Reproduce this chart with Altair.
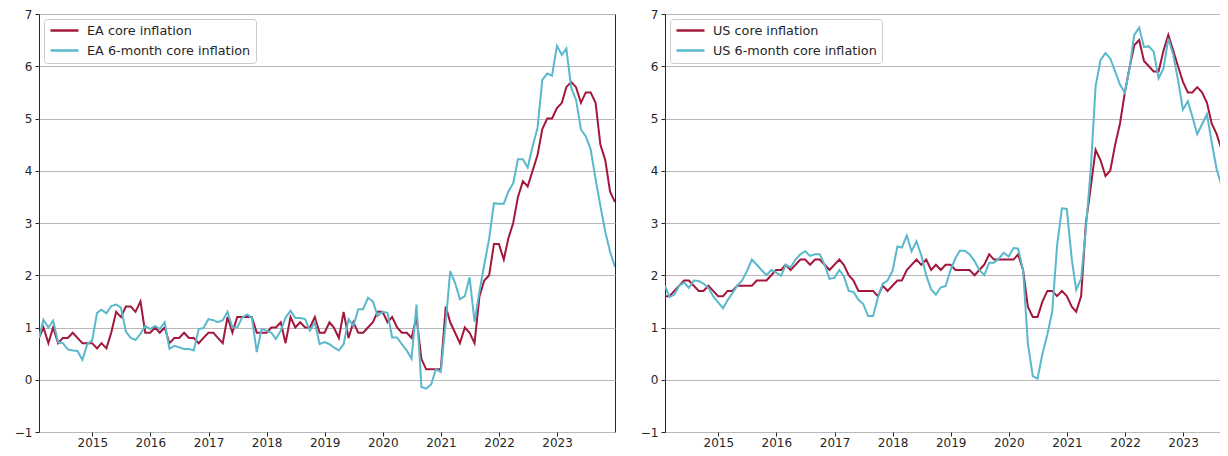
import altair as alt
import pandas as pd

# Monthly observations, Jan 2014 .. Dec 2023 (month-end)
dates = pd.date_range("2014-01-01", periods=120, freq="MS") + pd.offsets.MonthEnd(0)

ea_core = [
    0.8, 1.0, 0.7, 1.0, 0.7, 0.8, 0.8, 0.9, 0.8, 0.7, 0.7, 0.7,
    0.6, 0.7, 0.6, 0.9, 1.3, 1.2, 1.4, 1.4, 1.3, 1.5, 0.9, 0.9,
    1.0, 0.9, 1.0, 0.7, 0.8, 0.8, 0.9, 0.8, 0.8, 0.7, 0.8, 0.9,
    0.9, 0.8, 0.7, 1.2, 0.9, 1.2, 1.2, 1.2, 1.2, 0.9, 0.9, 0.9,
    1.0, 1.0, 1.1, 0.7, 1.2, 1.0, 1.1, 1.0, 1.0, 1.2, 0.9, 0.9,
    1.1, 1.0, 0.8, 1.3, 0.8, 1.1, 0.9, 0.9, 1.0, 1.1, 1.3, 1.3,
    1.1, 1.2, 1.0, 0.9, 0.9, 0.8, 1.2, 0.4, 0.2, 0.2, 0.2, 0.2,
    1.4, 1.1, 0.9, 0.7, 1.0, 0.9, 0.7, 1.6, 1.9, 2.0, 2.6, 2.6,
    2.3, 2.7, 3.0, 3.5, 3.8, 3.7, 4.0, 4.3, 4.8, 5.0, 5.0, 5.2,
    5.3, 5.6, 5.7, 5.6, 5.3, 5.5, 5.5, 5.3, 4.5, 4.2, 3.6, 3.4,
]
ea_6m = [
    0.8, 1.15, 1.0, 1.13, 0.72, 0.7, 0.58, 0.56, 0.55, 0.38, 0.68, 0.75,
    1.28, 1.34, 1.27, 1.41, 1.44, 1.38, 0.92, 0.8, 0.76, 0.88, 1.03, 0.97,
    1.03, 0.97, 1.1, 0.59, 0.65, 0.62, 0.59, 0.59, 0.56, 0.97, 0.99, 1.16,
    1.14, 1.1, 1.14, 1.3, 1.0, 1.0, 1.19, 1.25, 1.19, 0.53, 0.97, 0.94,
    0.9, 0.78, 0.94, 1.19, 1.32, 1.18, 1.18, 1.16, 0.94, 1.1, 0.68, 0.72,
    0.68, 0.62, 0.56, 0.68, 1.16, 1.03, 1.35, 1.35, 1.57, 1.5, 1.22, 1.3,
    1.28, 0.81, 0.81, 0.68, 0.56, 0.4, 1.44, -0.14, -0.17, -0.09, 0.2, 0.15,
    1.1, 2.08, 1.85, 1.54, 1.6, 1.96, 1.11, 1.69, 2.2, 2.7, 3.38, 3.37,
    3.37, 3.6, 3.76, 4.22, 4.22, 4.06, 4.47, 4.82, 5.74, 5.86, 5.82, 6.39,
    6.22, 6.34, 5.58, 5.36, 4.79, 4.66, 4.41, 3.84, 3.33, 2.83, 2.45, 2.16,
]
us_core = [
    1.6, 1.6, 1.7, 1.8, 1.9, 1.9, 1.8, 1.7, 1.7, 1.8, 1.7, 1.6,
    1.6, 1.7, 1.7, 1.8, 1.8, 1.8, 1.8, 1.9, 1.9, 1.9, 2.0, 2.1,
    2.1, 2.2, 2.1, 2.2, 2.3, 2.3, 2.2, 2.3, 2.3, 2.2, 2.1, 2.2,
    2.3, 2.2, 2.0, 1.9, 1.7, 1.7, 1.7, 1.7, 1.6, 1.8, 1.7, 1.8,
    1.9, 1.9, 2.1, 2.2, 2.3, 2.2, 2.3, 2.1, 2.2, 2.1, 2.2, 2.2,
    2.1, 2.1, 2.1, 2.1, 2.0, 2.1, 2.2, 2.4, 2.3, 2.3, 2.3, 2.3,
    2.3, 2.4, 2.1, 1.4, 1.2, 1.2, 1.5, 1.7, 1.7, 1.6, 1.7, 1.6,
    1.4, 1.3, 1.6, 3.0, 3.7, 4.4, 4.2, 3.9, 4.0, 4.5, 4.9, 5.5,
    6.0, 6.4, 6.5, 6.1, 6.0, 5.9, 5.9, 6.3, 6.6, 6.3, 6.0, 5.7,
    5.5, 5.5, 5.6, 5.5, 5.3, 4.9, 4.7, 4.4, 4.1, 4.0, 4.0, 3.9,
]
us_6m = [
    1.8, 1.58, 1.63, 1.8, 1.86, 1.76, 1.9, 1.89, 1.84, 1.76, 1.6, 1.48,
    1.37, 1.52, 1.66, 1.8, 1.9, 2.08, 2.3, 2.2, 2.1, 2.0, 2.1, 2.05,
    1.99, 2.2, 2.15, 2.3, 2.4, 2.46, 2.37, 2.4, 2.4, 2.2, 1.93, 1.95,
    2.1, 1.98, 1.7, 1.68, 1.53, 1.45, 1.22, 1.22, 1.57, 1.84, 1.9, 2.08,
    2.55, 2.53, 2.76, 2.46, 2.65, 2.38, 2.0, 1.73, 1.63, 1.77, 1.79, 2.1,
    2.33, 2.47, 2.47, 2.4, 2.27, 2.1, 2.0, 2.24, 2.24, 2.32, 2.43, 2.36,
    2.52, 2.51, 2.1, 0.7, 0.07, 0.02, 0.5, 0.87, 1.3, 2.57, 3.28, 3.27,
    2.31, 1.72, 1.94, 2.9, 4.05, 5.62, 6.12, 6.25, 6.15, 5.9, 5.65, 5.49,
    6.0, 6.6, 6.74, 6.37, 6.38, 6.28, 5.77, 5.96, 6.53, 6.22, 5.74, 5.17,
    5.33, 5.04, 4.7, 4.89, 5.08, 4.54, 4.03, 3.71, 3.56, 3.3, 3.1, 2.9,
]

y_ticks = [-1, 0, 1, 2, 3, 4, 5, 6, 7]
RED = "#a3173c"
CYAN = "#5ab8cc"
INK = "#262626"
FONT = "DejaVu Sans"

PLOT_H = 418


def panel(core, six, name_core, name_six):
    n = len(dates)
    df = pd.DataFrame({
        "date": list(dates) * 2,
        "value": core + six,
        "series": [name_core] * n + [name_six] * n,
        "order": [0] * n + [1] * n,
    })
    return alt.Chart(df).mark_line(strokeWidth=2, clip=True).encode(
        x=alt.X(
            "date:T",
            scale=alt.Scale(nice=False),
            axis=alt.Axis(
                title=None, format="%Y",
                tickCount=alt.TimeIntervalStep(interval="year", step=1),
                grid=False, labelFlush=False, domain=False,
                tickSize=4, labelPadding=1,
            ),
        ),
        y=alt.Y(
            "value:Q",
            scale=alt.Scale(domain=[-1, 7], nice=False, zero=False),
            axis=alt.Axis(
                title=None, values=y_ticks, grid=True, domain=False,
                gridColor="#b8b8b8", gridWidth=1,
                tickSize=4, labelPadding=3,
            ),
        ),
        color=alt.Color(
            "series:N",
            scale=alt.Scale(domain=[name_core, name_six], range=[RED, CYAN]),
            legend=alt.Legend(
                title=None, orient="top-left", offset=5,
                symbolType="stroke", symbolSize=784, symbolStrokeWidth=2.5,
                clipHeight=13, labelLimit=0,
                labelFontSize=12.8, labelFont=FONT, labelColor=INK,
                labelOffset=7, rowPadding=6, padding=5,
                fillColor="white", strokeColor="#cccccc", cornerRadius=3,
            ),
        ),
        detail="order:O",
    ).properties(width=576, height=PLOT_H)


left = panel(ea_core, ea_6m, "EA core inflation", "EA 6-month core inflation")
right = panel(us_core, us_6m, "US core inflation", "US 6-month core inflation")

chart = alt.hconcat(left, right, spacing=23).resolve_scale(
    color="independent"
).properties(
    autosize=alt.AutoSizeParams(type="none"),
    padding={"left": 31, "top": 6, "right": 0, "bottom": 16},
).configure_view(
    stroke=INK, strokeWidth=1
).configure_axis(
    labelFont=FONT, labelFontSize=12, labelColor=INK,
    tickColor=INK, tickWidth=1,
)

chart.save(
    "out.html",
    embed_options={"renderer": "svg", "actions": False, "width": 1181, "height": PLOT_H},
)
